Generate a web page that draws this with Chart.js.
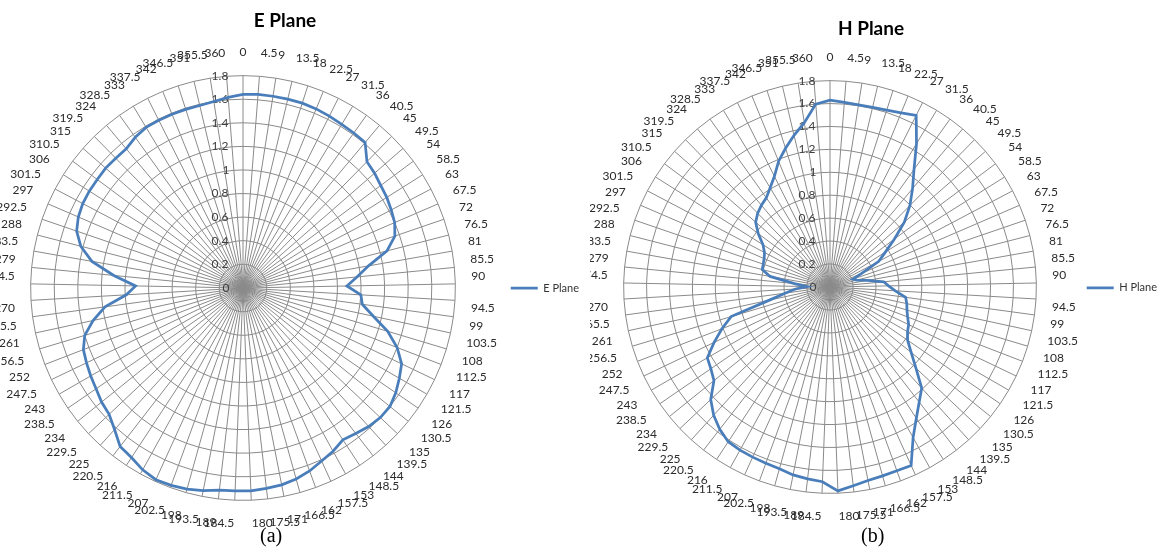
<!DOCTYPE html>
<html>
<head>
<meta charset="utf-8">
<script src="https://cdn.jsdelivr.net/npm/chart.js@4.4.1/dist/chart.umd.min.js"></script>
<style>
  html, body { margin: 0; padding: 0; background: #fff; }
  body { width: 1160px; height: 553px; position: relative; overflow: hidden; }
  .box { position: absolute; top: 0; height: 553px; overflow: hidden; }
  #boxE { left: 0; width: 590px; }
  #boxH { left: 590px; width: 570px; }
  .box canvas { position: absolute; top: 0; }
  .cap { position: absolute; top: 524px; font: 20px "Liberation Serif", serif; color: #000; }
</style>
</head>
<body>
<div class="box" id="boxE"><canvas id="eChart" width="608" height="553" style="left:-19px"></canvas></div>
<div class="box" id="boxH"><canvas id="hChart" width="592" height="553" style="left:-15px"></canvas></div>
<div class="cap" style="left:260px">(a)</div>
<div class="cap" style="left:861px">(b)</div>
<script>
// angle categories (degrees)
const angles = ['0','4.5','9','13.5','18','22.5','27','31.5','36','40.5','45','49.5','54','58.5','63','67.5',
  '72','76.5','81','85.5','90','94.5','99','103.5','108','112.5','117','121.5','126','130.5','135','139.5',
  '144','148.5','153','157.5','162','166.5','171','175.5','180','184.5','189','193.5','198','202.5','207',
  '211.5','216','220.5','225','229.5','234','238.5','243','247.5','252','256.5','261','265.5','270','274.5',
  '279','283.5','288','292.5','297','301.5','306','310.5','315','319.5','324','328.5','333','337.5','342',
  '346.5','351','355.5','360'];

const ePlane = [1.64,1.645,1.645,1.645,1.645,1.64,1.63,1.62,1.615,1.61,1.50,1.48,1.455,1.44,1.42,1.40,
  1.36,1.26,1.08,0.97,0.88,1.00,1.02,1.13,1.28,1.40,1.49,1.53,1.57,1.60,1.60,1.585,1.56,1.54,1.58,1.61,
  1.65,1.68,1.70,1.71,1.72,1.72,1.725,1.75,1.77,1.78,1.785,1.76,1.72,1.70,1.62,1.56,1.54,1.51,1.49,1.47,
  1.45,1.40,1.30,1.18,0.99,0.91,1.10,1.30,1.42,1.49,1.52,1.535,1.54,1.54,1.545,1.54,1.54,1.57,1.59,1.59,
  1.59,1.59,1.59,1.60,1.62];

const hPlane = [1.63,1.615,1.607,1.61,1.62,1.64,1.675,1.46,1.26,1.12,0.995,0.86,0.70,0.57,0.48,0.30,
  0.21,0.24,0.33,0.47,0.51,0.57,0.665,0.685,0.70,0.725,0.76,0.78,0.82,0.91,1.03,1.19,1.27,1.37,1.50,1.71,
  1.705,1.71,1.72,1.745,1.78,1.70,1.685,1.67,1.645,1.635,1.63,1.625,1.615,1.57,1.51,1.43,1.30,1.26,1.235,
  1.12,1.01,0.90,0.54,0.39,0.30,0.20,0.31,0.53,0.61,0.615,0.625,0.645,0.69,0.78,0.86,0.90,0.93,0.955,
  1.01,1.08,1.185,1.27,1.36,1.45,1.60];

// radial tick values and their labels
const rTickValues = [0, 0.2, 0.4, 0.6, 0.8, 1, 1.2, 1.4, 1.6, 1.8];
const rTickLabels = ['0', '0.2', '0.4', '0.6', '0.8', '1', '1.2', '1.4', '1.6', '1.8'];

const LINE = '#4a7ebb';
const GRID = '#8a8a8a';
const FONT = 'Lato, "Open Sans", sans-serif';

// radial tick text is drawn centred on the spoke, so pad with trailing
// spaces to push the visible number to the left of the 0° spoke
const mctx = document.createElement('canvas').getContext('2d');
mctx.font = '12px ' + FONT;
function padLeftOfSpoke(txt) {
  const w = mctx.measureText(txt).width;
  const sp = mctx.measureText(' ').width;
  const n = Math.max(0, Math.round((w + 28) / sp));
  return txt + ' '.repeat(n);
}

function makeChart(id, name, values, titlePad, bottomPad, legendPad) {
  return new Chart(document.getElementById(id), {
    type: 'radar',
    data: {
      labels: angles,
      datasets: [{
        label: name,
        data: values,
        borderColor: LINE,
        backgroundColor: LINE,
        borderWidth: 2.75,
        pointRadius: 0,
        pointHoverRadius: 0,
        pointStyle: 'line',
        fill: false,
        tension: 0
      }]
    },
    options: {
      responsive: false,
      animation: false,
      layout: { padding: { left: 0, right: 0, top: 0, bottom: bottomPad } },
      plugins: {
        title: {
          display: true,
          text: name,
          color: '#000',
          font: { family: FONT, size: 19, weight: 'bold' },
          padding: titlePad
        },
        legend: {
          position: 'right',
          fullSize: false,
          labels: {
            usePointStyle: true,
            pointStyle: 'line',
            pointStyleWidth: 27,
            color: '#333',
            font: { family: FONT, size: 11 },
            padding: legendPad
          }
        },
        tooltip: { enabled: false }
      },
      scales: {
        r: {
          // slightly below zero so the "0" tick label is drawn at the centre
          min: -0.001,
          max: 1.8,
          afterBuildTicks: s => { s.ticks = rTickValues.map(v => ({ value: v })); },
          ticks: {
            showLabelBackdrop: false,
            color: '#404040',
            font: { family: FONT, size: 12 },
            callback: (v, i) => padLeftOfSpoke(rTickLabels[i])
          },
          grid: { color: GRID, lineWidth: 1 },
          angleLines: { color: GRID, lineWidth: 1 },
          pointLabels: {
            color: '#2b2b2b',
            font: { family: FONT, size: 12 },
            padding: 8
          }
        }
      }
    }
  });
}

makeChart('eChart', 'E Plane', ePlane, { top: 9.6, bottom: 11.6 }, 21, 10);
makeChart('hChart', 'H Plane', hPlane, { top: 17.6, bottom: 7.4 }, 25, 5);
</script>
</body>
</html>
